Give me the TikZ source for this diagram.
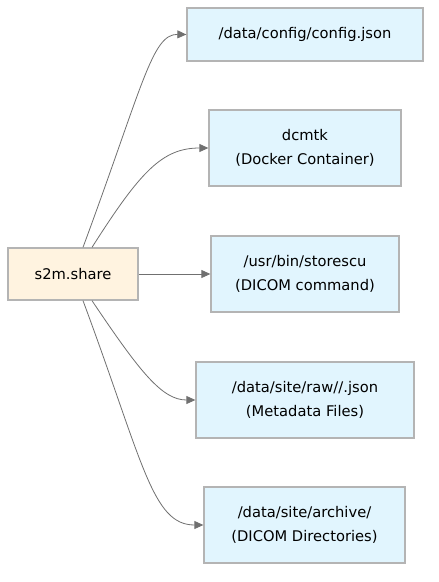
\documentclass[tikz,border=0pt]{standalone}
\usepackage{fontspec}
\setmainfont{DejaVu Sans}
\usetikzlibrary{arrows.meta}
\definecolor{srcfill}{HTML}{FFF3E0}
\definecolor{dstfill}{HTML}{E1F5FE}
\definecolor{boxline}{HTML}{B4B4B4}
\definecolor{edgeline}{HTML}{707070}
\begin{document}
\begin{tikzpicture}[x=1pt,y=-1pt]
    \tikzstyle{every node} = [font=\fontsize{14.7}{23.5}\selectfont]
    \tikzstyle{block} = [draw=boxline, line width=1.3pt, rectangle, inner sep=0pt, align=center, minimum height=76pt]
    \tikzstyle{source} = [block, fill=srcfill, minimum height=52pt]
    \tikzstyle{target} = [block, fill=dstfill]
    \tikzstyle{link} = [-{Triangle[length=9pt,width=8pt]}, edgeline, line width=0.8pt]
    \useasboundingbox (0,0) rectangle (439,582);
    % place nodes
    \node[source,minimum width=130pt](share) at (73,274){s2m.share};
    \node[target,minimum width=236pt,minimum height=53pt](config) at (305,34.5){/data/config/config.json};
    \node[target,minimum width=192pt](dcmtk) at (305,148){dcmtk\\(Docker Container)};
    \node[target,minimum width=188pt](storescu) at (305,274){/usr/bin/storescu\\(DICOM command)};
    \node[target,minimum width=218pt](rawjson) at (305,400){/data/site/raw//.json\\(Metadata Files)};
    \node[target,minimum width=201pt](archive) at (304.5,525){/data/site/archive/\\(DICOM Directories)};

    % Connections
    \draw[link] ([xshift=10pt]share.north) .. controls (143,85) and (152,34) .. (config.west);
    \draw[link] ([xshift=19pt]share.north) .. controls (140,172) and (162,148) .. (dcmtk.west);
    \draw[link] (share.east) -- (storescu.west);
    \draw[link] ([xshift=19pt]share.south) .. controls (140,372) and (162,400) .. (rawjson.west);
    \draw[link] ([xshift=10pt]share.south) .. controls (143,462) and (152,525) .. (archive.west);
  \end{tikzpicture}
\end{document}
